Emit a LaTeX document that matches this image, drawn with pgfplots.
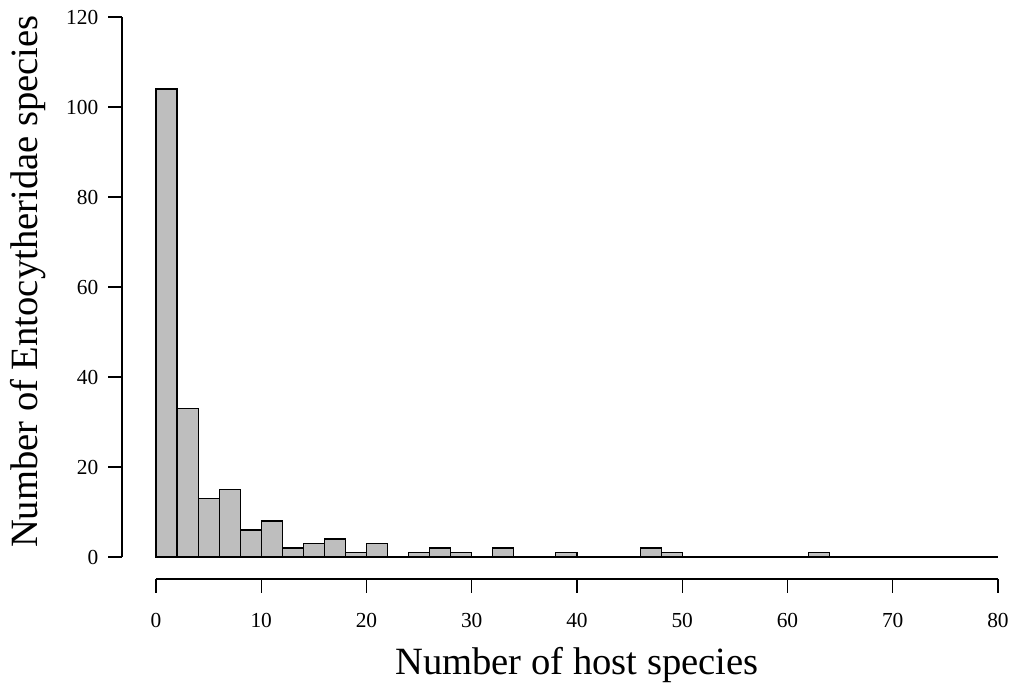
\documentclass[border=0pt]{standalone}
\usepackage{fontspec}
\setmainfont{Liberation Serif}
\usepackage{pgfplots}
\pgfplotsset{compat=1.18}
\definecolor{rgray}{HTML}{BEBEBE}
\begin{document}
\begin{tikzpicture}
\useasboundingbox (-78pt,-64.5pt) rectangle (428.5pt,278.5pt);
\begin{axis}[
  scale only axis,
  width=421pt, height=270pt,
  xmin=0, xmax=80, ymin=0, ymax=120,
  clip=false,
  axis x line*=bottom, axis y line*=left,
  x axis line style={yshift=-11pt, line width=0.6pt, -},
  y axis line style={xshift=-17pt, line width=0.6pt, -},
  xtick={0,10,...,80}, ytick={0,20,...,120},
  tick align=outside, major tick length=6.8pt,
  xtick style={yshift=-11pt, line width=0.6pt, black},
  ytick style={xshift=-17pt, line width=0.6pt, black},
  minor tick num=0,
  tick label style={font=\fontsize{10.7}{12}\selectfont},
  /pgf/number format/assume math mode=true,
  xticklabel style={yshift=-18pt},
  yticklabel style={xshift=-18.5pt},
  xlabel={Number of host species},
  ylabel={Number of Entocytheridae species},
  label style={font=\fontsize{19.3}{22}\selectfont},
  xlabel style={at={(axis description cs:0.5,-0.2185)}, anchor=base},
  ylabel style={at={(axis description cs:-0.1413,0.510)}, anchor=base, rotate=0},
]
\addplot[ybar interval, fill=rgray, draw=black, line width=0.55pt]
coordinates {
(0,104) (2,33) (4,13) (6,15) (8,6) (10,8) (12,2) (14,3) (16,4) (18,1)
(20,3) (22,0) (24,1) (26,2) (28,1) (30,0) (32,2) (34,0) (36,0) (38,1)
(40,0) (42,0) (44,0) (46,2) (48,1) (50,0) (52,0) (54,0) (56,0) (58,0)
(60,0) (62,1) (64,0) (66,0) (68,0) (70,0) (72,0) (74,0) (76,0) (78,0)
(80,0)
};
\end{axis}
\end{tikzpicture}
\end{document}
